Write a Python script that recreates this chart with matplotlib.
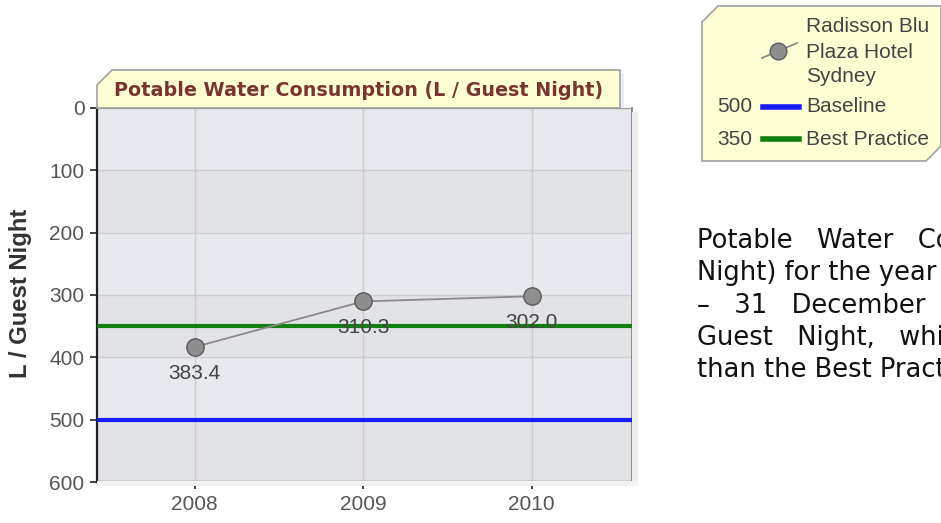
import matplotlib.pyplot as plt
from matplotlib.patches import Polygon, Rectangle
from matplotlib.lines import Line2D

years = [2008, 2009, 2010]
consumption = [383.4, 310.3, 302.0]
baseline = 500
best_practice = 350
y_ticks = [0, 100, 200, 300, 400, 500, 600]

W, H = 941, 523
fig = plt.figure(figsize=(W / 100, H / 100), dpi=100)
fig.patch.set_facecolor('white')


def fx(px):
    return px / W


def fy(py):
    return 1 - py / H


# drop shadow right of plot and title tab
fig.patches.append(Rectangle((fx(632), fy(486)), fx(6), fy(112) - fy(486),
                             transform=fig.transFigure, facecolor='#eeeeee',
                             edgecolor='none', zorder=0))
fig.patches.append(Rectangle((fx(97), fy(486)), fx(541), fy(481) - fy(486),
                             transform=fig.transFigure, facecolor='#f3f3f3',
                             edgecolor='none', zorder=0))

# main axes
ax = fig.add_axes([fx(97), fy(482), fx(632) - fx(97), fy(108) - fy(482)])
ax.set_xlim(2007.42, 2010.595)
ax.set_ylim(600, 0)

# alternating bands
for i, (a, b) in enumerate(zip(y_ticks[:-1], y_ticks[1:])):
    ax.axhspan(a, b, color='#e6e9ed' if i % 2 == 0 else '#e2e3e6', zorder=0, lw=0)
for y in y_ticks:
    ax.axhline(y, color='#cdcdcd', lw=1, zorder=1)
for x in years:
    ax.axvline(x, color='#cdcdcd', lw=1, zorder=1)

ax.axhline(baseline, color='#1a1aff', lw=3, zorder=3)
ax.axhline(best_practice, color='#108010', lw=3, zorder=3)

ax.plot(years, consumption, color='#8a8a8a', lw=1.3, marker='o', markersize=12.5,
        markerfacecolor='#8e8e8e', markeredgecolor='#5a5a5a', markeredgewidth=1, zorder=4)
for x, v in zip(years, consumption):
    ax.annotate(f'{v:.1f}', (x, v), xytext=(0, -19), textcoords='offset points',
                ha='center', va='center', fontsize=15, color='#444444',
                family='Liberation Sans', zorder=5)

ax.set_xticks(years)
ax.set_xticklabels([str(y) for y in years])
ax.set_yticks(y_ticks)
ax.tick_params(axis='both', length=5, width=1.2, color='#222222', labelsize=15,
               labelcolor='#555555', pad=4)
for lab in ax.get_xticklabels() + ax.get_yticklabels():
    lab.set_family('Liberation Sans')
ax.spines['left'].set_color('#222222')
ax.spines['bottom'].set_color('#222222')
ax.spines['left'].set_linewidth(1.6)
ax.spines['bottom'].set_linewidth(1.6)
ax.spines['top'].set_color('#9a9a9a')
ax.spines['right'].set_color('#8a8a8a')
ax.spines['right'].set_linewidth(1.4)

fig.text(fx(21), fy(293), 'L / Guest Night', rotation=90, ha='center', va='center',
         fontsize=17.2, fontweight='bold', color='#333333', family='Liberation Sans')

# title tab
tab = [(97, 108), (97, 85), (112, 70), (620, 70), (620, 108)]
fig.patches.append(Rectangle((fx(620), fy(108)), fx(4), fy(73) - fy(108),
                             transform=fig.transFigure, facecolor='#eeeeee',
                             edgecolor='none', zorder=1))
fig.patches.append(Polygon([(fx(x), fy(y)) for x, y in tab], closed=True,
                           transform=fig.transFigure, facecolor='#ffffd4',
                           edgecolor='#a0a0a0', lw=1.2, zorder=2))
fig.text(fx(359), fy(91), 'Potable Water Consumption (L / Guest Night)',
         ha='center', va='center', fontsize=13.8, fontweight='bold', color='#7a3530',
         family='DejaVu Sans')

# legend box
leg = [(702, 161), (702, 22), (718, 6), (941, 6), (941, 146), (926, 161)]
fig.patches.append(Polygon([(fx(x), fy(y)) for x, y in leg], closed=True,
                           transform=fig.transFigure, facecolor='#ffffd4',
                           edgecolor='#a0a0a0', lw=1.2, zorder=2))
fig.lines.append(Line2D([fx(762), fx(797)], [fy(58), fy(43)], transform=fig.transFigure,
                        color='#8a8a8a', lw=1.3, zorder=3))
fig.lines.append(Line2D([fx(778)], [fy(51)], transform=fig.transFigure, marker='o',
                        markersize=12, markerfacecolor='#8e8e8e',
                        markeredgecolor='#5a5a5a', zorder=4))
for txt, y in zip(['Radisson Blu', 'Plaza Hotel', 'Sydney'], [27, 52, 76]):
    fig.text(fx(806), fy(y), txt, ha='left', va='center', fontsize=15,
             color='#444444', family='Liberation Sans')
for val, name, col, y in [(baseline, 'Baseline', '#1a1aff', 107),
                          (best_practice, 'Best Practice', '#108010', 139)]:
    fig.text(fx(717), fy(y), str(val), ha='left', va='center', fontsize=15,
             color='#444444', family='Liberation Sans')
    fig.lines.append(Line2D([fx(763), fx(799)], [fy(y), fy(y)], transform=fig.transFigure,
                            color=col, lw=4, zorder=3))
    fig.text(fx(806), fy(y), name, ha='left', va='center', fontsize=15,
             color='#444444', family='Liberation Sans')

# paragraph text (runs past the page edge like the screenshot)
para = ['Potable   Water   Con',
        'Night) for the year 1',
        '–   31   December  2',
        'Guest   Night,   whi',
        'than the Best Practice']
for i, line in enumerate(para):
    fig.text(fx(697), fy(241 + i * 32.3), line, ha='left', va='center',
             fontsize=18.5, color='#111111', family='DejaVu Sans')

fig.savefig('out.png', dpi=100)
